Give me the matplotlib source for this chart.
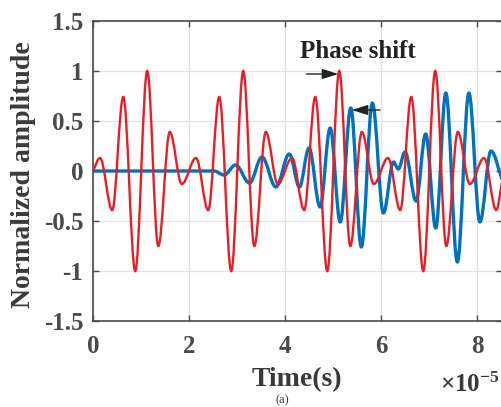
import numpy as np
import matplotlib
matplotlib.use("Agg")
import matplotlib.pyplot as plt
from matplotlib.path import Path
from matplotlib.patches import PathPatch

plt.rcParams["font.family"] = "Liberation Serif"
plt.rcParams["font.weight"] = "bold"
plt.rcParams["mathtext.fontset"] = "custom"
plt.rcParams["mathtext.rm"] = "Liberation Serif"
plt.rcParams["mathtext.it"] = "Liberation Serif:italic"
plt.rcParams["mathtext.bf"] = "Liberation Serif:bold"

# 読み取り値: 極値 (時刻 [x1e-5 s], 正規化振幅)
red_t = [0, 0.146, 0.40, 0.63, 0.88, 1.13, 1.36, 1.60, 1.85,
         2.146, 2.40, 2.63, 2.88, 3.13, 3.36, 3.60, 3.85,
         4.146, 4.40, 4.63, 4.88, 5.13, 5.36, 5.60, 5.85,
         6.146, 6.40, 6.63, 6.88, 7.13, 7.36, 7.60, 7.85,
         8.146, 8.40, 8.52]
red_v = [0, 0.13, -0.39, 0.74, -1.0, 1.0, -0.75, 0.39, -0.13,
         0.13, -0.39, 0.74, -1.0, 1.0, -0.75, 0.39, -0.13,
         0.13, -0.39, 0.74, -1.0, 1.0, -0.75, 0.39, -0.13,
         0.13, -0.39, 0.74, -1.0, 1.0, -0.75, 0.39, -0.13,
         0.13, -0.39, -0.12]

blue_t = [0, 2.52, 2.73, 2.97, 3.26, 3.52, 3.81, 4.09, 4.30, 4.50, 4.73,
          4.94, 5.15, 5.37, 5.59, 5.82, 6.05, 6.26, 6.36, 6.50, 6.73,
          6.93, 7.14, 7.35, 7.59, 7.83, 8.06, 8.29, 8.52]
blue_v = [0, 0, -0.04, 0.06, -0.12, 0.14, -0.16, 0.17, -0.16, 0.23, -0.36,
          0.43, -0.51, 0.63, -0.76, 0.68, -0.42, 0.09, 0.02, 0.19, -0.30,
          0.37, -0.57, 0.78, -0.91, 0.78, -0.51, 0.20, -0.08]

x_ticks = [0, 2, 4, 6, 8]
y_ticks = [-1.5, -1, -0.5, 0, 0.5, 1, 1.5]
y_ticklabels = ["-1.5", "-1", "-0.5", "0", "0.5", "1", "1.5"]

AX_COL = "#4a4a4a"


def smooth_path(ts, vs, k=0.36):
    """極値間を水平接線の3次ベジェで結ぶ (両端は弦方向)."""
    verts = [(ts[0], vs[0])]
    codes = [Path.MOVETO]
    n = len(ts)
    for i in range(n - 1):
        t0, v0, t1, v1 = ts[i], vs[i], ts[i + 1], vs[i + 1]
        dt = t1 - t0
        c0v = v0 if i > 0 else v0 + k * (v1 - v0)
        c1v = v1 if i + 1 < n - 1 else v1 - k * (v1 - v0)
        verts += [(t0 + k * dt, c0v), (t1 - k * dt, c1v), (t1, v1)]
        codes += [Path.CURVE4] * 3
    return Path(verts, codes)


fig = plt.figure(figsize=(5.01, 4.07), dpi=100)
ax = fig.add_axes([93 / 501, 1 - 321 / 407, 409 / 501, 300 / 407])
ax.set_xlim(0, 8.52)
ax.set_ylim(-1.5, 1.5)

ax.add_patch(PathPatch(smooth_path(blue_t, blue_v), fill=False,
                       edgecolor="#0072BD", lw=2.4, capstyle="round",
                       joinstyle="round", zorder=2))
ax.add_patch(PathPatch(smooth_path(red_t, red_v), fill=False,
                       edgecolor="#EC1C24", lw=1.7, zorder=3))

ax.set_xticks(x_ticks)
ax.set_yticks(y_ticks)
ax.set_yticklabels(y_ticklabels)
ax.grid(True, color="#e3e3e3", lw=0.9)
ax.set_axisbelow(True)
ax.tick_params(direction="in", length=4, width=1, top=True, right=True,
               labelsize=18, colors=AX_COL)
ax.tick_params(axis="x", pad=10)
ax.tick_params(axis="y", pad=7)
for s in ax.spines.values():
    s.set_color(AX_COL)
    s.set_linewidth(1.2)

# 注釈
ax.text(4.31, 1.13, "Phase shift", fontsize=18, color="#222222",
        ha="left", va="baseline")
arrow = dict(arrowstyle="-|>,head_length=0.7,head_width=0.22",
             color="#222222", lw=1.0, shrinkA=0, shrinkB=0, mutation_scale=14)
ax.annotate("", xy=(5.11, 0.97), xytext=(4.45, 0.97), arrowprops=arrow)
ax.annotate("", xy=(5.39, 0.61), xytext=(5.98, 0.61), arrowprops=arrow)

fig.text(24 / 501, 1 - 175 / 407, "Normalized amplitude", rotation=90,
         fontsize=20, color="#3a3a3a", ha="center", va="center")
fig.text(297 / 501, 1 - 380 / 407, "Time(s)", fontsize=20, color="#3a3a3a",
         ha="center", va="center")
fig.text(500 / 501, 1 - 392 / 407, r"$\times10^{-5}$", fontsize=18,
         color="#3a3a3a", ha="right", va="baseline")
fig.text(282 / 501, 1 - 406 / 407, "(a)", fontsize=9, color="#3a3a3a",
         fontweight="normal", ha="center", va="bottom")

fig.savefig("out.png", dpi=100)
